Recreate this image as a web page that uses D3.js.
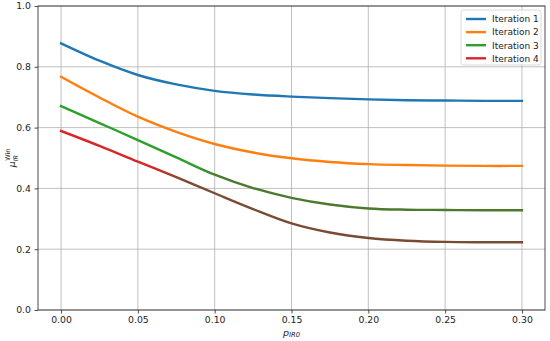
<!DOCTYPE html>
<html>
<head>
<meta charset="utf-8">
<script src="https://cdn.jsdelivr.net/npm/d3@7"></script>
<style>
  body { margin: 0; background: #fff; }
  text { font-family: "DejaVu Sans", sans-serif; }
</style>
</head>
<body>
<div id="chart"></div>
<script>
// chart values
const pIR0 = [0, 0.025, 0.05, 0.075, 0.10, 0.125, 0.15, 0.175, 0.20, 0.225, 0.25, 0.275, 0.30];
const iter1 = [0.877, 0.820, 0.773, 0.742, 0.721, 0.709, 0.702, 0.697, 0.693, 0.690, 0.689, 0.688, 0.688];
const iter2 = [0.767, 0.699, 0.636, 0.586, 0.546, 0.518, 0.499, 0.487, 0.480, 0.477, 0.475, 0.474, 0.474];
const iter3 = [0.671, 0.615, 0.559, 0.502, 0.445, 0.401, 0.369, 0.347, 0.334, 0.330, 0.329, 0.328, 0.328];
const iter4 = [0.589, 0.540, 0.488, 0.437, 0.384, 0.332, 0.285, 0.255, 0.237, 0.228, 0.224, 0.223, 0.223];
const seriesNames = ["Iteration 1", "Iteration 2", "Iteration 3", "Iteration 4"];
const xTicks = [0, 0.05, 0.10, 0.15, 0.20, 0.25, 0.30];
const yTicks = [0, 0.2, 0.4, 0.6, 0.8, 1.0];

const colors = ["#1f77b4", "#ff7f0e", "#2ca02c", "#d62728"];
// the last two lines darken part way along in the figure
const darkTail = [null, null, { from: 0.095, color: "#4b7a2c" }, { from: 0.07, color: "#7b4a32" }];

const W = 550, H = 341;
const margins = { top: 6, right: 5, bottom: 31, left: 38 };
const width = W - margins.left - margins.right;
const height = H - margins.top - margins.bottom;

const root = d3.select("#chart").append("svg")
    .attr("width", W)
    .attr("height", H);

const svg = root.append("g")
    .attr("transform", `translate(${margins.left},${margins.top})`);

const xScale = d3.scaleLinear().domain([-0.015, 0.315]).range([0, width]);
const yScale = d3.scaleLinear().domain([0, 1]).range([height, 0]);

// grid
svg.append("g")
    .selectAll("line")
    .data(xTicks)
    .join("line")
    .attr("x1", d => xScale(d)).attr("x2", d => xScale(d))
    .attr("y1", 0).attr("y2", height)
    .attr("stroke", "#b0b0b0").attr("stroke-width", 0.8);

svg.append("g")
    .selectAll("line")
    .data(yTicks)
    .join("line")
    .attr("x1", 0).attr("x2", width)
    .attr("y1", d => yScale(d)).attr("y2", d => yScale(d))
    .attr("stroke", "#b0b0b0").attr("stroke-width", 0.8);

// axes
const xAxis = svg.append("g")
    .attr("transform", `translate(0,${height})`)
    .call(d3.axisBottom(xScale).tickValues(xTicks).tickFormat(d3.format(".2f")).tickSizeOuter(0).tickSize(3.5).tickPadding(3));

const yAxis = svg.append("g")
    .call(d3.axisLeft(yScale).tickValues(yTicks).tickFormat(d3.format(".1f")).tickSizeOuter(0).tickSize(3.5).tickPadding(3.5));

[xAxis, yAxis].forEach(ax => {
    ax.select(".domain").remove();
    ax.selectAll("line").attr("stroke", "#222").attr("stroke-width", 0.8);
    ax.selectAll("text").attr("fill", "#222").style("font-size", "9.3px");
});

// frame
svg.append("rect")
    .attr("width", width).attr("height", height)
    .attr("fill", "none").attr("stroke", "#222").attr("stroke-width", 0.8);

// gradients for the colour change along the lines
const defs = root.append("defs");
darkTail.forEach((t, i) => {
    if (!t) return;
    const g = defs.append("linearGradient")
        .attr("id", `grad-${i}`)
        .attr("gradientUnits", "userSpaceOnUse")
        .attr("x1", xScale(0)).attr("x2", xScale(0.3))
        .attr("y1", 0).attr("y2", 0);
    const off = (xScale(t.from) - xScale(0)) / (xScale(0.3) - xScale(0));
    g.append("stop").attr("offset", 0).attr("stop-color", colors[i]);
    g.append("stop").attr("offset", off - 0.03).attr("stop-color", colors[i]);
    g.append("stop").attr("offset", off + 0.03).attr("stop-color", t.color);
    g.append("stop").attr("offset", 1).attr("stop-color", t.color);
});

const line = d3.line()
    .x(d => xScale(d[0]))
    .y(d => yScale(d[1]))
    .curve(d3.curveCatmullRom.alpha(0.5));

const allSeries = [iter1, iter2, iter3, iter4];
svg.selectAll(".line")
    .data(allSeries)
    .join("path")
    .attr("class", "line")
    .attr("fill", "none")
    .attr("stroke", (d, i) => darkTail[i] ? `url(#grad-${i})` : colors[i])
    .attr("stroke-width", 2.4)
    .attr("stroke-linecap", "square")
    .attr("d", d => line(d.map((v, k) => [pIR0[k], v])));

// legend
const legend = svg.append("g")
    .attr("transform", `translate(${width - 84},4)`);

legend.append("rect")
    .attr("width", 80).attr("height", 55)
    .attr("rx", 2.5)
    .attr("fill", "#fff").attr("fill-opacity", 0.8)
    .attr("stroke", "#d0d0d0").attr("stroke-width", 0.8);

seriesNames.forEach((name, i) => {
    const y = 9 + i * 13.1;
    legend.append("line")
        .attr("x1", 5).attr("x2", 25)
        .attr("y1", y).attr("y2", y)
        .attr("stroke", colors[i]).attr("stroke-width", 2.4);
    legend.append("text")
        .attr("x", 31).attr("y", y + 3.3)
        .attr("fill", "#222")
        .style("font-size", "9px")
        .text(name);
});

// axis labels
const xl = root.append("text")
    .attr("x", margins.left + width / 2)
    .attr("y", 335.5)
    .attr("text-anchor", "middle")
    .attr("fill", "#222")
    .style("font-size", "9.5px");
xl.append("tspan").attr("font-style", "italic").text("p");
xl.append("tspan").attr("font-style", "italic").attr("dy", 1.5).style("font-size", "6.8px").text("IR0");

const yl = root.append("text")
    .attr("transform", `translate(15,${margins.top + height / 2}) rotate(-90)`)
    .attr("text-anchor", "middle")
    .attr("fill", "#222")
    .style("font-size", "9.5px");
yl.append("tspan").attr("font-style", "italic").text("μ");
yl.append("tspan").attr("font-style", "italic").attr("dy", 2.5).style("font-size", "6.5px").text("IR");
yl.append("tspan").attr("dx", -6).attr("dy", -8).style("font-size", "6.5px").text("Win");
</script>
</body>
</html>
